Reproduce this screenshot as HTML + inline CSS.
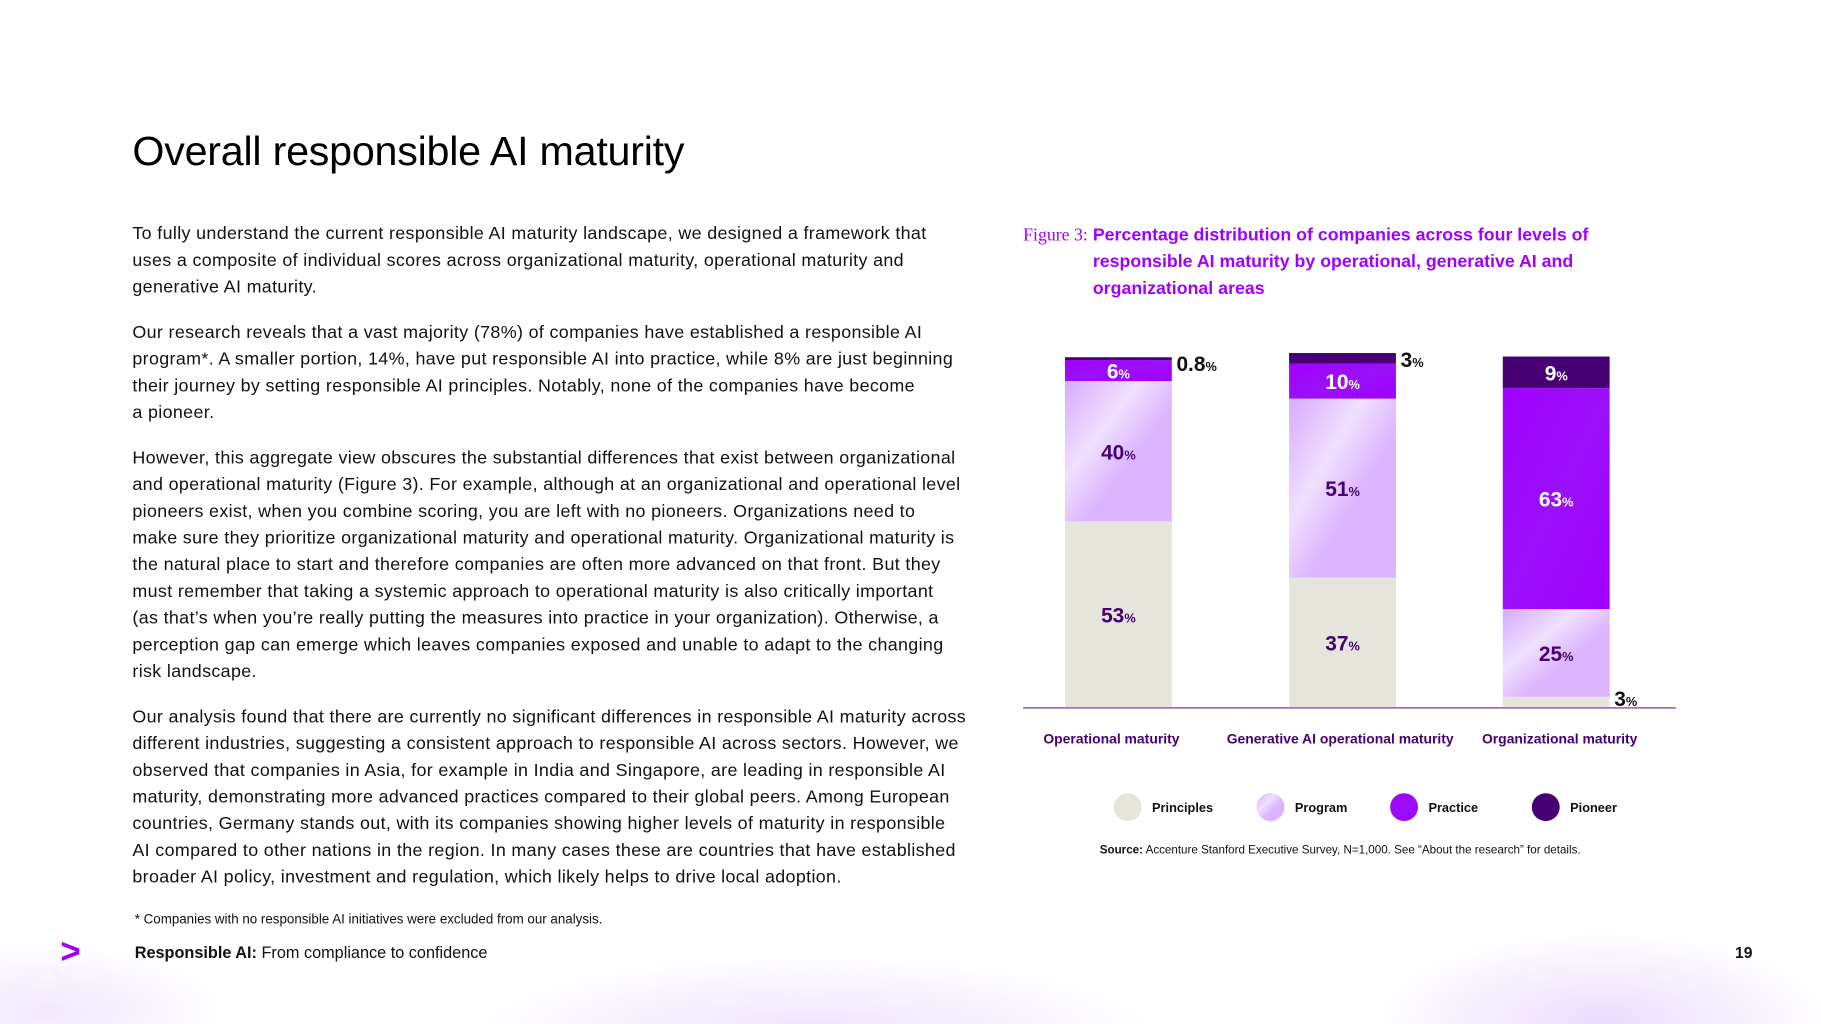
<!DOCTYPE html>
<html><head><meta charset="utf-8">
<style>
html,body{margin:0;padding:0;background:#fff;}
body{width:1821px;height:1024px;overflow:hidden;position:relative;font-family:"Liberation Sans",sans-serif;}
#pg{position:absolute;left:0;top:0;width:1568px;height:882px;transform:scale(1.16135);transform-origin:0 0;}
.abs{position:absolute;}
h1{position:absolute;left:114px;top:110px;margin:0;font-weight:400;font-size:35.5px;color:#000;letter-spacing:-0.2px;}
.body{position:absolute;left:114px;top:190px;white-space:nowrap;font-size:15.4px;line-height:23px;color:#111;letter-spacing:0.3px;}
.body p{margin:0 0 16px 0;}
.cap{position:absolute;left:881px;top:191px;width:520px;font-size:15.3px;line-height:23px;color:#a100ff;font-weight:bold;}
.bg{position:absolute;left:0;top:760px;width:1568px;height:122px;background:radial-gradient(ellipse 300px 70px at 700px 130px,rgba(190,140,255,0.25),transparent),radial-gradient(ellipse 200px 80px at 1380px 120px,rgba(190,140,255,0.3),transparent),radial-gradient(ellipse 160px 60px at 40px 110px,rgba(190,140,255,0.2),transparent);}
</style></head><body>
<div id="pg">
<div class="bg"></div>
<h1>Overall responsible AI maturity</h1>
<div class="body">
<p>To fully understand the current responsible AI maturity landscape, we designed a framework that<br>uses a composite of individual scores across organizational maturity, operational maturity and<br>generative AI maturity.</p>
<p>Our research reveals that a vast majority (78%) of companies have established a responsible AI<br>program*. A smaller portion, 14%, have put responsible AI into practice, while 8% are just beginning<br>their journey by setting responsible AI principles. Notably, none of the companies have become<br>a pioneer.</p>
<p>However, this aggregate view obscures the substantial differences that exist between organizational<br>and operational maturity (Figure 3). For example, although at an organizational and operational level<br>pioneers exist, when you combine scoring, you are left with no pioneers. Organizations need to<br>make sure they prioritize organizational maturity and operational maturity. Organizational maturity is<br>the natural place to start and therefore companies are often more advanced on that front. But they<br>must remember that taking a systemic approach to operational maturity is also critically important<br>(as that’s when you’re really putting the measures into practice in your organization). Otherwise, a<br>perception gap can emerge which leaves companies exposed and unable to adapt to the changing<br>risk landscape.</p>
<p>Our analysis found that there are currently no significant differences in responsible AI maturity across<br>different industries, suggesting a consistent approach to responsible AI across sectors. However, we<br>observed that companies in Asia, for example in India and Singapore, are leading in responsible AI<br>maturity, demonstrating more advanced practices compared to their global peers. Among European<br>countries, Germany stands out, with its companies showing higher levels of maturity in responsible<br>AI compared to other nations in the region. In many cases these are countries that have established<br>broader AI policy, investment and regulation, which likely helps to drive local adoption.</p>
</div>
<div class="abs" style="left:116px;top:786px;font-size:11.5px;color:#111;">* Companies with no responsible AI initiatives were excluded from our analysis.</div>
<div class="abs" style="left:52px;top:803px;font-size:30px;font-weight:bold;color:#a100ff;line-height:34px;">&gt;</div>
<div class="abs" style="left:116px;top:812px;font-size:14px;color:#111;"><b>Responsible AI:</b> From compliance to confidence</div>
<div class="abs" style="left:1494px;top:813px;font-size:13.5px;font-weight:bold;color:#111;">19</div>
<div class="cap"><span style="font-family:'Liberation Serif',serif;font-weight:normal;position:absolute;left:0;top:0;">Figure 3:</span><div style="margin-left:60px;">Percentage distribution of companies across four levels of responsible AI maturity by operational, generative AI and organizational areas</div></div>
<svg class="abs" style="left:0;top:0" width="1568" height="882" id="chart">
<defs>
<linearGradient id="gProg" x1="0" y1="0" x2="1" y2="1"><stop offset="0" stop-color="#d8aaff"/><stop offset="0.35" stop-color="#efe0ff"/><stop offset="0.6" stop-color="#dcb4ff"/></linearGradient>
<linearGradient id="gPrac" x1="0" y1="0" x2="1" y2="1"><stop offset="0" stop-color="#a100ff"/><stop offset="0.5" stop-color="#9a10f8"/><stop offset="1" stop-color="#a100ff"/></linearGradient>
</defs>
</svg>
</div>
<script>
const categories=["Operational maturity","Generative AI operational maturity","Organizational maturity"];
const principles=[53,37,3];
const program=[40,51,25];
const practice=[6,10,63];
const pioneer=[0.8,3,9];
const seriesNames=["Principles","Program","Practice","Pioneer"];
const labelsP=["53","37","3"],labelsPr=["40","51","25"],labelsPa=["6","10","63"],labelsPi=["0.8","3","9"];
(function(){
const NS="http://www.w3.org/2000/svg";const svg=document.getElementById('chart');
const base=609,top0=307;const yS=v=>v*(base-top0)/100;
const xs=[917,1110,1294],bw=92;
const catX=[957,1154,1343];
const fills=["#e5e5dc","url(#gProg)","url(#gPrac)","#460073"];
const txt=["#460073","#460073","#fff","#fff"];
const series=[principles,program,practice,pioneer];
const labs=[labelsP,labelsPr,labelsPa,labelsPi];
function t(x,y,s,size,col,anchor,w){const e=document.createElementNS(NS,'text');e.setAttribute('x',x);e.setAttribute('y',y);e.setAttribute('font-size',size);e.setAttribute('fill',col);e.setAttribute('text-anchor',anchor||'middle');e.setAttribute('font-weight',w||'bold');e.setAttribute('font-family','Liberation Sans, sans-serif');e.textContent=s;svg.appendChild(e);return e;}
categories.forEach((c,i)=>{let y=base;
 series.forEach((s,k)=>{const h=yS(s[i]);y-=h;
  const r=document.createElementNS(NS,'rect');r.setAttribute('x',xs[i]);r.setAttribute('y',y);r.setAttribute('width',bw);r.setAttribute('height',h);r.setAttribute('fill',fills[k]);
  
  
  svg.appendChild(r);
  const lab=labs[k][i];let e;
  if(h<14){ e=t(xs[i]+bw+4, k==0? y+h-1 : y+12,'', 18,'#111','start');}
  else e=t(xs[i]+bw/2,y+h/2+7,'',18,txt[k]);
  e.innerHTML=lab+'<tspan font-size="11">%</tspan>';
  
  
 });
 const cl=t(catX[i],640,c,12,'#460073','middle','bold');
 
 
});
const ax=document.createElementNS(NS,'line');ax.setAttribute('x1',881);ax.setAttribute('x2',1443);ax.setAttribute('y1',base+0.5);ax.setAttribute('y2',base+0.5);ax.setAttribute('stroke','#9b70c8');ax.setAttribute('stroke-width',1.5);


svg.appendChild(ax);
const lx=[971,1094,1209,1331];
seriesNames.forEach((n,k)=>{const c=document.createElementNS(NS,'circle');c.setAttribute('cx',lx[k]);c.setAttribute('cy',695);c.setAttribute('r',12);c.setAttribute('fill',fills[k]);
 
 
 svg.appendChild(c);
 const e=t(lx[k]+21,699,n,11,'#111','start');
 
 });
const s=t(1154,735,'',10,'#111','middle','normal');s.innerHTML='<tspan font-weight="bold">Source:</tspan> Accenture Stanford Executive Survey, N=1,000. See “About the research” for details.';


})();
</script>
</body></html>
